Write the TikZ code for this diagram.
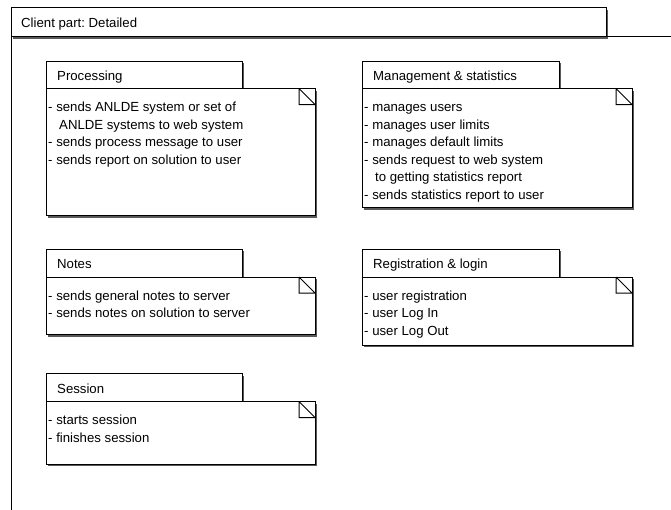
\documentclass[tikz,border=0pt]{standalone}
\usepackage{fontspec}
\setmainfont{Liberation Sans}
\frenchspacing
\begin{document}
\tikzset{
  pkgline/.style={draw=black,line width=1pt},
  pkgshadow/.style={fill=black!65},
  pkgtitle/.style={anchor=base west,inner sep=0pt,font=\fontsize{13.2}{16}\selectfont},
  pkgbody/.style={anchor=north west,inner sep=0pt,align=left,font=\fontsize{13.2}{17.5}\selectfont},
}
% #1 name, #2 left, #3 tab top, #4 tab right, #5 body top, #6 body right,
% #7 body bottom, #8 title, #9 body text
\newcommand\umlpkg[9]{%
  \fill[pkgshadow] (#2+2,#3+2) rectangle (#4+2,#5+2);
  \fill[pkgshadow] (#2+2,#5+2) rectangle (#6+2,#7+2);
  \draw[pkgline,fill=white] (#2,#3) rectangle (#4,#5);
  \draw[pkgline,fill=white] (#2,#5) rectangle (#6,#7);
  \draw[pkgline] (#6-16,#5) -- (#6-16,#5+16) -- (#6,#5+16)
                 (#6-16,#5) -- (#6,#5+16);
  \node[pkgtitle] (#1-title) at (#2+11,#3+19.5) {#8};
  \node[pkgbody] (#1-body) at (#2+2,#5+13) {\rule{0pt}{10pt}#9};
}
\begin{tikzpicture}[x=1pt,y=-1pt]
  \useasboundingbox (0,0) rectangle (671,509);
  \clip (0,0) rectangle (671,509);
  \fill[white] (0,0) rectangle (671,509);

  % enclosing package frame (runs off the page at right and bottom)
  \fill[pkgshadow] (13,9.5) rectangle (608,38.5);
  \draw[pkgline,fill=white] (11,7.5) rectangle (606,36.5);
  \draw[pkgline] (11,36.5) -- (680,36.5);
  \draw[pkgline] (11,36.5) -- (11,520);
  \node[pkgtitle] (frame-title) at (21,27) {Client part: Detailed};

  \umlpkg{proc}{46}{61}{242}{88.5}{315}{215.5}{Processing}
    {- sends ANLDE system or set of\\\hspace*{11pt}ANLDE systems to web system\\- sends process message to user\\- sends report on solution to user}

  \umlpkg{mgmt}{362}{61}{559}{88.5}{632}{207.5}{Management \& statistics}
    {- manages users\\- manages user limits\\- manages default limits\\- sends request to web system\\\hspace*{11pt}to getting statistics report\\- sends statistics report to user}

  \umlpkg{notes}{46}{249}{242}{277}{315}{334.5}{Notes}
    {- sends general notes to server\\- sends notes on solution to server}

  \umlpkg{reg}{362}{249}{559}{277}{632}{345}{Registration \& login}
    {- user registration\\- user Log In\\- user Log Out}

  \umlpkg{sess}{46}{373.5}{242}{401.5}{315}{464}{Session}
    {- starts session\\- finishes session}
\end{tikzpicture}
\end{document}
